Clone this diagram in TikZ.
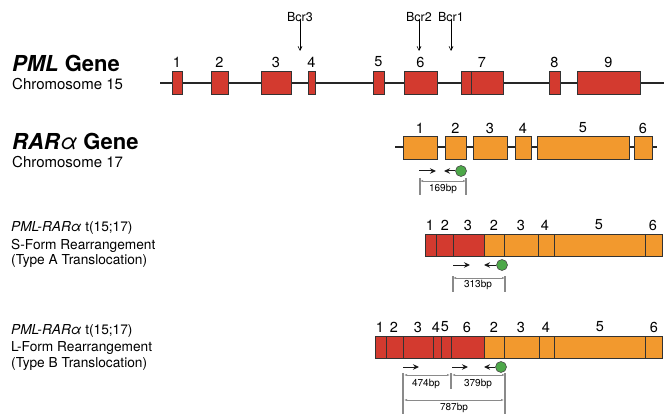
\documentclass[tikz,border=0pt]{standalone}
\usepackage{fontspec}
\setmainfont{TeX Gyre Heros}
\usetikzlibrary{arrows.meta}
\definecolor{exred}{HTML}{D33A2F}
\definecolor{exorange}{HTML}{F2992E}
\definecolor{primgreen}{HTML}{4DA849}
\definecolor{outl}{HTML}{333333}
\definecolor{dimgray}{HTML}{8A8A8A}
\begin{document}
\begin{tikzpicture}[x=1pt,y=-1pt,
  geneline/.style={line width=2pt, draw=black!85},
  exbox/.style={draw=outl, line width=0.85pt},
  num/.style={font=\fontsize{14.5}{14.5}\selectfont, inner sep=0pt},
  title/.style={font=\fontsize{22}{22}\selectfont\bfseries, inner sep=0pt, anchor=base west},
  sub/.style={font=\fontsize{15}{15}\selectfont, inner sep=0pt, anchor=base west},
  desc/.style={font=\fontsize{13.7}{13.7}\selectfont, inner sep=0pt, anchor=base west},
  bcr/.style={font=\fontsize{12.5}{12.5}\selectfont, inner sep=0pt},
  bcrarrow/.style={line width=0.6pt, -{Straight Barb[length=4pt,width=4pt]}},
  primer/.style={line width=1pt, draw=black!90, -{Stealth[length=6pt,width=5.5pt]}},
  dot/.style={circle, fill=primgreen, draw=black!70, line width=0.6pt, minimum size=11pt, inner sep=0pt},
  dim/.style={draw=dimgray, line width=0.6pt, {Latex[length=3pt,width=2.2pt]}-{Latex[length=3pt,width=2.2pt]}},
  dimtick/.style={draw=dimgray, line width=1.1pt},
  bp/.style={font=\fontsize{10}{10}\selectfont, inner sep=0pt}]
\useasboundingbox (0,0) rectangle (664,414);

% ---------------- left titles ----------------
\node[title] (t1) at (12,72) {\textit{PML} Gene};
\node[sub] (s1) at (12,90) {Chromosome 15};
\node[title] (t2) at (12,150) {\textit{RAR}{\mdseries\itshape α} Gene};
\node[sub] (s2) at (12,168) {Chromosome 17};
\node[desc] (d1) at (11,232) {\textit{PML-RARα} t(15;17)};
\node[desc] (d2) at (11,249) {S-Form Rearrangement};
\node[desc] (d3) at (11,265) {(Type A Translocation)};
\node[desc] (d4) at (11,334) {\textit{PML-RARα} t(15;17)};
\node[desc] (d5) at (11,351) {L-Form Rearrangement};
\node[desc] (d6) at (11,367) {(Type B Translocation)};

% ---------------- PML gene ----------------
\coordinate (pmlL) at (160,83);
\coordinate (pmlR) at (664,83);
\draw[geneline] (pmlL) -- (pmlR);
\foreach \a/\b/\l in {172/182/1,211/228/2,261/291/3,308/315/4,373/384/5,404/437/6,461/503/7,549/560/8,577/640/9}{
  \draw[exbox, fill=exred] (\a,71) rectangle (\b,94);
  \node[num] (pml\l) at ({(\a+\b)/2},62) {\l};
}
\draw[exbox] (471,71) -- (471,94);

% Bcr breakpoints
\foreach \x/\n in {300/3,419/2,451/1}{
  \node[bcr] (bcr\n) at (\x,17) {Bcr\n};
  \coordinate (bcrtip\n) at (\x,51);
  \draw[bcrarrow] (bcr\n.south) ++(0,-2) -- (bcrtip\n);
}

% ---------------- RARa gene ----------------
\coordinate (rarL) at (395,147);
\coordinate (rarR) at (657,147);
\draw[geneline] (rarL) -- (rarR);
\foreach \a/\b/\l in {403/437/1,445/466/2,473/507/3,515/531/4,537/629/5,634/652/6}{
  \draw[exbox, fill=exorange] (\a,136) rectangle (\b,159);
  \node[num] (rar\l) at ({(\a+\b)/2},128) {\l};
}
% primers
\coordinate (ra1) at (419,171); \coordinate (ra2) at (436,171);
\draw[primer] (ra1) -- (ra2);
\node[dot] (rdot) at (461,171) {};
\coordinate (rb2) at (444,171);
\draw[primer] (rdot.west) -- (rb2);
% dimension
\coordinate (rt1a) at (420,178); \coordinate (rt1b) at (420,195);
\coordinate (rt2a) at (466,178); \coordinate (rt2b) at (466,195);
\draw[dimtick] (rt1a) -- (rt1b);
\draw[dimtick] (rt2a) -- (rt2b);
\coordinate (rd1) at (420,181); \coordinate (rd2) at (466,181);
\draw[dim] (rd1) -- (rd2);
\node[bp] (bp169) at (443,189) {169bp};

% ---------------- S-form ----------------
\draw[exbox, fill=exred] (425,234) rectangle (484,256);
\draw[exbox, fill=exorange] (484,234) rectangle (662.5,256);
\foreach \x in {436,453,504,538,554,645}{ \draw[exbox] (\x,234) -- (\x,256); }
\foreach \x/\l [count=\i] in {430/1,445/2,468/3,494/2,521/3,545/4,599/5,653/6}{
  \node[num] (sn\i) at (\x,225) {\l};
}
\coordinate (sa1) at (453,265); \coordinate (sa2) at (470,265);
\draw[primer] (sa1) -- (sa2);
\node[dot] (sdot) at (502,265) {};
\coordinate (sb2) at (484,265);
\draw[primer] (sdot.west) -- (sb2);
\coordinate (st1a) at (453,276); \coordinate (st1b) at (453,292);
\coordinate (st2a) at (505,276); \coordinate (st2b) at (505,292);
\draw[dimtick] (st1a) -- (st1b);
\draw[dimtick] (st2a) -- (st2b);
\coordinate (sd1) at (453,278); \coordinate (sd2) at (505,278);
\draw[dim] (sd1) -- (sd2);
\node[bp] (bp313) at (478,285) {313bp};

% ---------------- L-form ----------------
\draw[exbox, fill=exred] (375,336) rectangle (484,358);
\draw[exbox, fill=exorange] (484,336) rectangle (662.5,358);
\foreach \x in {386,403,433,441,451,504,539,554,645}{ \draw[exbox] (\x,336) -- (\x,358); }
\foreach \x/\l [count=\i] in {380/1,394/2,418/3,436/4,445/5,467/6,494/2,521/3,546/4,600/5,654/6}{
  \node[num] (ln\i) at (\x,327) {\l};
}
\coordinate (la1) at (403,367); \coordinate (la2) at (419,367);
\draw[primer] (la1) -- (la2);
\coordinate (lc1) at (452,367); \coordinate (lc2) at (468,367);
\draw[primer] (lc1) -- (lc2);
\node[dot] (ldot) at (501,367) {};
\coordinate (lb2) at (484,367);
\draw[primer] (ldot.west) -- (lb2);
\coordinate (lt1a) at (403,373); \coordinate (lt1b) at (403,414);
\coordinate (lt2a) at (451,373); \coordinate (lt2b) at (451,389);
\coordinate (lt3a) at (505,373); \coordinate (lt3b) at (505,414);
\draw[dimtick] (lt1a) -- (lt1b);
\draw[dimtick] (lt2a) -- (lt2b);
\draw[dimtick] (lt3a) -- (lt3b);
\coordinate (ld1) at (404,375); \coordinate (ld2) at (450,375);
\coordinate (ld3) at (452,375); \coordinate (ld4) at (505,375);
\draw[dim] (ld1) -- (ld2);
\draw[dim] (ld3) -- (ld4);
\node[bp] (bp474) at (426,384) {474bp};
\node[bp] (bp379) at (478,384) {379bp};
\coordinate (le1) at (404,400); \coordinate (le2) at (504,400);
\draw[dim] (le1) -- (le2);
\node[bp] (bp787) at (454,408) {787bp};
\end{tikzpicture}
\end{document}
